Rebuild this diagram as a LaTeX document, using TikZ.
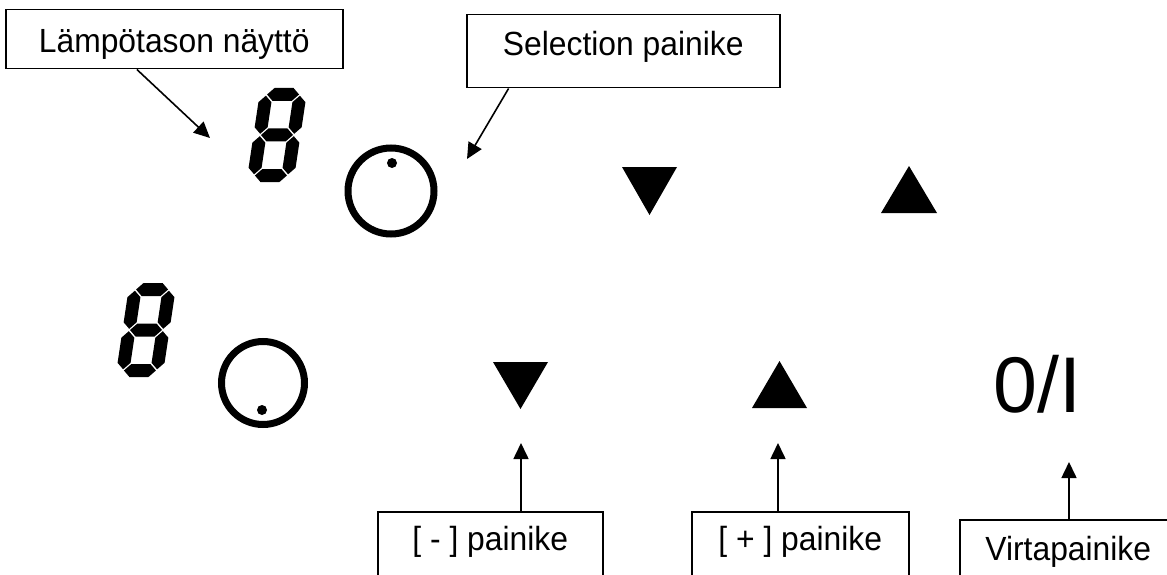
\documentclass[tikz,border=0pt]{standalone}
\usepackage{fontspec}
\setmainfont{Liberation Sans}[FakeStretch=0.95]
\newfontfamily\bigfont{Liberation Sans}
\usetikzlibrary{arrows.meta}
\tikzset{
  lbl/.style={draw, line width=1.5pt, anchor=north west, inner sep=0pt, font=\fontsize{33.5}{38}\selectfont},
  arr/.style={-{Triangle[length=16pt,width=15pt]}, line width=1.6pt},
  pics/segdigit/.style={code={
    \foreach \y in {-40.5,0,40.5}
      \fill (-16,\y) -- ++(6.5,-6.5) -- (9.5,\y-6.5) -- (16,\y) -- (9.5,\y+6.5) -- (-9.5,\y+6.5) -- cycle;
    \foreach \x in {-17,17}
      \foreach \a/\b in {-39.3/-1.2,1.2/39.3}
        \fill (\x,\a) -- ++(6.5,6.5) -- (\x+6.5,\b-6.5) -- (\x,\b) -- (\x-6.5,\b-6.5) -- (\x-6.5,\a+6.5) -- cycle;
  }}
}
\begin{document}
\begin{tikzpicture}[x=1pt,y=-1pt]
        \clip (0,0) rectangle (1167,575);
        % upper row
        \pic[xslant=0.15] at (277,135) {segdigit};
        \draw[line width=7pt] (391,191) circle[radius=43];
        \fill (392,163) circle[radius=5];
        \fill (622,167) -- (677,167) -- (649.5,215) -- cycle;
        \fill (881,213) -- (937,213) -- (909,166) -- cycle;
        % lower row
        \pic[xslant=0.15] at (146,330) {segdigit};
        \draw[line width=7pt] (263,383) circle[radius=41.5];
        \fill (262,410) circle[radius=5];
        \fill (493,362) -- (548,362) -- (520.5,409) -- cycle;
        \fill (752,408) -- (807,408) -- (779.5,361) -- cycle;
        \node[inner sep=0pt] (power) at (1037.5,384) {\bigfont\fontsize{79}{88}\selectfont 0/I};
        % labels
        \node[lbl, minimum width=337pt, text height=43pt, text depth=16pt] (lampo) at (5,9) {Lämpötason näyttö};
        \node[lbl, minimum width=313pt, text height=41pt, text depth=32pt] (sel) at (466,14) {Selection painike};
        \node[lbl, minimum width=225pt, text height=39pt, text depth=80pt] (minus) at (377,511) {[ - ] painike};
        \node[lbl, minimum width=217pt, text height=39pt, text depth=80pt] (plus) at (691,511) {[ + ] painike};
        \node[lbl, minimum width=217pt, text height=41pt, text depth=80pt] (virta) at (959,519) {Virtapainike};
        \coordinate (lampotip) at (210,138);
        \coordinate (seltip) at (467,159);
        \coordinate (minustip) at (521,443);
        \coordinate (plustip) at (778,443);
        \coordinate (virtatip) at (1069,462);
        \draw[arr] (lampo.219) -- (lampotip);
        \draw[arr] (sel.198) -- (seltip);
        \draw[arr] (minus.north -| minustip) -- (minustip);
        \draw[arr] (plus.north -| plustip) -- (plustip);
        \draw[arr] (virta.north -| virtatip) -- (virtatip);
\end{tikzpicture}
\end{document}
